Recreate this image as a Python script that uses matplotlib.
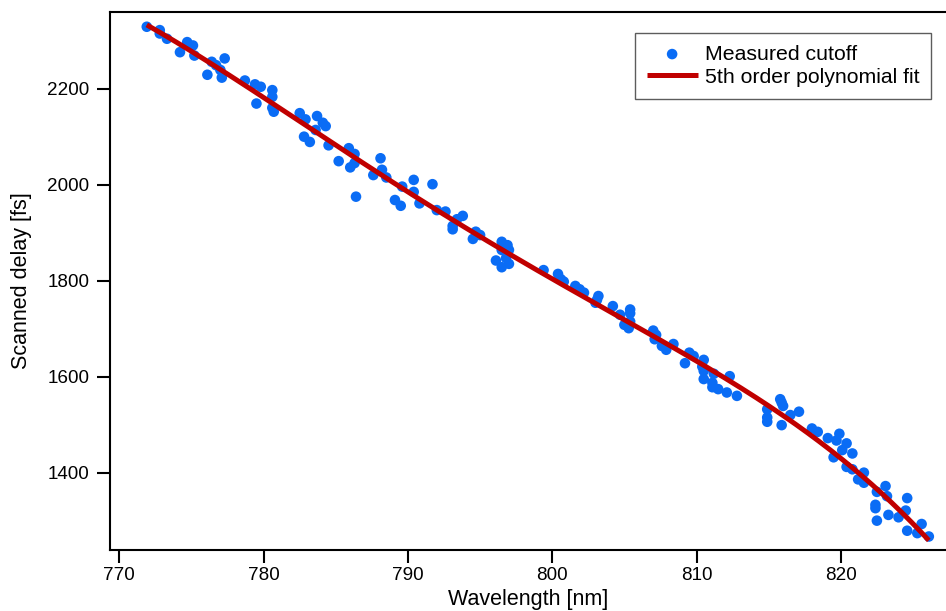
import numpy as np
import matplotlib
matplotlib.use("Agg")
import matplotlib.pyplot as plt

plt.rcParams['font.family'] = ['Liberation Sans', 'DejaVu Sans']

# Measured cutoff positions: wavelength [nm] vs scanned delay [fs]
wavelength_nm = [
    771.9, 772.8, 772.8, 773.3, 774.2, 774.7, 775.1, 775.2, 776.1, 776.4,
    776.7, 777.3, 777.1, 777.0, 778.7, 779.4, 779.8, 779.5, 780.6, 780.6,
    780.6, 780.7, 782.5, 782.9, 783.7, 784.1, 784.3, 783.6, 782.8, 783.2,
    784.5, 785.9, 786.3, 785.2, 786.0, 786.3, 788.1, 788.2, 787.6, 788.5,
    786.4, 789.6, 790.4, 789.1, 789.5, 790.4, 791.7, 790.8, 792.0, 792.6,
    793.4, 793.8, 793.1, 793.1, 794.7, 795.0, 794.5, 796.5, 796.9, 796.5,
    797.0, 796.1, 796.8, 796.5, 797.0, 799.4, 800.4, 800.6, 800.8, 801.6,
    801.9, 802.2, 803.2, 803.1, 803.0, 804.2, 804.7, 805.4, 805.4, 805.4,
    805.0, 805.3, 807.0, 807.2, 807.1, 807.6, 807.9, 808.4, 809.5, 809.8,
    809.2, 810.5, 810.4, 810.5, 811.2, 812.3, 810.5, 811.1, 811.1, 811.5,
    812.1, 812.8, 815.8, 815.9, 816.0, 814.9, 816.5, 817.1, 814.9, 814.9,
    815.9, 818.0, 818.4, 819.1, 819.9, 819.7, 820.4, 820.1, 820.8, 819.5,
    820.4, 820.8, 821.2, 821.6, 821.6, 822.5, 823.1, 823.2, 822.4, 822.4,
    823.3, 822.5, 824.0, 824.6, 824.5, 824.6, 825.3, 825.6, 826.1,
]
delay_fs = [
    2329, 2322, 2315, 2304, 2276, 2297, 2290, 2269, 2229, 2256,
    2249, 2263, 2223, 2239, 2217, 2209, 2204, 2169, 2197, 2183,
    2160, 2152, 2149, 2136, 2143, 2129, 2122, 2114, 2100, 2089,
    2082, 2076, 2064, 2049, 2036, 2045, 2055, 2031, 2020, 2015,
    1975, 1996, 2010, 1968, 1956, 1985, 2001, 1961, 1947, 1944,
    1928, 1935, 1914, 1907, 1902, 1895, 1887, 1881, 1874, 1864,
    1864, 1842, 1847, 1828, 1835, 1822, 1814, 1803, 1798, 1789,
    1782, 1775, 1768, 1760, 1754, 1747, 1729, 1740, 1732, 1715,
    1708, 1701, 1696, 1687, 1678, 1664, 1656, 1668, 1650, 1643,
    1628, 1635, 1621, 1612, 1606, 1601, 1595, 1587, 1578, 1574,
    1567, 1560, 1553, 1546, 1539, 1532, 1520, 1527, 1515, 1506,
    1499, 1492, 1485, 1472, 1481, 1467, 1461, 1447, 1440, 1432,
    1412, 1407, 1386, 1400, 1379, 1360, 1372, 1351, 1333, 1326,
    1312, 1300, 1307, 1347, 1321, 1279, 1274, 1293, 1267,
]

x_ticks = [770, 780, 790, 800, 810, 820]
y_ticks = [1400, 1600, 1800, 2000, 2200]

wl = np.asarray(wavelength_nm)
dl = np.asarray(delay_fs)

# 5th order polynomial fit of the measured cutoff
coeffs = np.polyfit(wl, dl, 5)
wl_fit = np.linspace(wl.min(), wl.max(), 400)
dl_fit = np.polyval(coeffs, wl_fit)

fig = plt.figure(figsize=(9.46, 6.11), dpi=100)
ax = fig.add_axes([0.1158, 0.0994, 1.0 - 0.1158, 0.9804 - 0.0994])

ax.scatter(wl, dl, s=58, color='#0A6CF5', edgecolors='none', zorder=2,
           label='Measured cutoff')
ax.plot(wl_fit, dl_fit, color='#C00000', lw=3.6, solid_capstyle='butt',
        zorder=3, label='5th order polynomial fit')

ax.set_xlim(769.32, 827.29)
ax.set_ylim(1238.3, 2359.8)
ax.set_xticks(x_ticks)
ax.set_yticks(y_ticks)

for side in ['left', 'bottom', 'top']:
    ax.spines[side].set_linewidth(1.5)
ax.spines['right'].set_visible(False)

ax.tick_params(axis='both', which='major', direction='out', length=9.4,
               width=1.5, labelsize=13.6)
ax.tick_params(axis='y', pad=5)
ax.tick_params(axis='x', pad=3)

ax.set_xlabel('Wavelength [nm]', fontsize=15.5, labelpad=3)
ax.set_ylabel('Scanned delay [fs]', fontsize=15.5, labelpad=11)

leg = ax.legend(loc='upper right', bbox_to_anchor=(0.982, 0.961),
                borderaxespad=0, fontsize=15.3, frameon=True, fancybox=False,
                handlelength=2.4, handletextpad=0.33, labelspacing=0.2,
                borderpad=0.55, scatterpoints=1)
leg.get_frame().set_edgecolor('#333333')
leg.get_frame().set_linewidth(1.0)

fig.savefig('out.png', dpi=100)
